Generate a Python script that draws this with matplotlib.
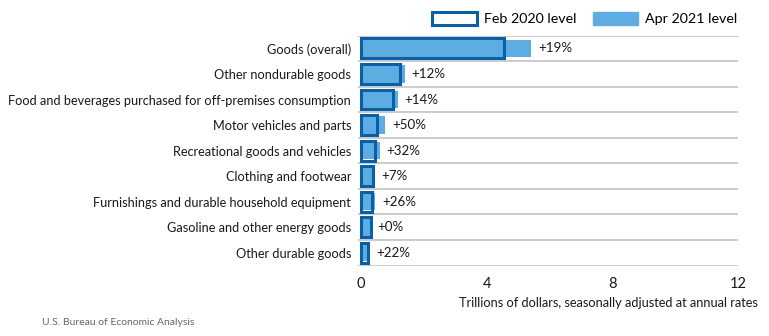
import matplotlib
matplotlib.use("Agg")
import matplotlib.pyplot as plt
from matplotlib.patches import Patch
import numpy as np

plt.rcParams['font.family'] = ['Lato', 'DejaVu Sans']

categories = ["Goods (overall)", "Other nondurable goods",
              "Food and beverages purchased for off-premises consumption",
              "Motor vehicles and parts", "Recreational goods and vehicles",
              "Clothing and footwear", "Furnishings and durable household equipment",
              "Gasoline and other energy goods", "Other durable goods"]
feb_2020 = [4.55, 1.23, 1.03, 0.50, 0.45, 0.38, 0.36, 0.31, 0.22]
apr_2021 = [5.41, 1.39, 1.17, 0.76, 0.59, 0.41, 0.45, 0.31, 0.27]
pct_labels = ["+19%", "+12%", "+14%", "+50%", "+32%", "+7%", "+26%", "+0%", "+22%"]
xticks = [0, 4, 8, 12]

light = "#5dade2"
dark = "#0b5fa5"

fig = plt.figure(figsize=(7.69, 3.36), dpi=100)
ax = fig.add_axes([0.4655, 0.2098, 0.4942, 0.684])

y = np.arange(len(categories))
ax.barh(y, apr_2021, height=0.68, color=light, zorder=2)
ax.barh(y, feb_2020, height=0.78, facecolor="none", edgecolor=dark, linewidth=2.2, zorder=3)

for i in range(len(categories)):
    end = max(feb_2020[i], apr_2021[i])
    ax.annotate(pct_labels[i], xy=(end, y[i]), xytext=(5, 0), textcoords="offset points",
                va="center", ha="left", fontsize=9.6, color="#1a1a1a")

for b in np.arange(len(categories) + 1) - 0.5:
    ax.axhline(b, color="#c8c8c8", linewidth=1.3, zorder=1)

ax.set_xlim(-0.1, 12)
ax.set_ylim(len(categories) - 0.5, -0.5)
ax.set_yticks(y)
ax.set_yticklabels(categories, fontsize=9.15, color="#1a1a1a")
ax.set_xticks(xticks)
ax.set_xticklabels([str(t) for t in xticks], fontsize=10.5, color="#1a1a1a")
ax.tick_params(axis="both", length=0)
ax.tick_params(axis="x", pad=8)
ax.tick_params(axis="y", pad=5)
for s in ax.spines.values():
    s.set_visible(False)

fig.text(0.986, 0.097, "Trillions of dollars, seasonally adjusted at annual rates",
         ha="right", va="center", fontsize=9.15, color="#1a1a1a")
fig.text(0.055, 0.04, "U.S. Bureau of Economic Analysis", ha="left", va="center",
         fontsize=7.5, color="#666666")

handles = [Patch(facecolor="white", edgecolor=dark, linewidth=2.2, label="Feb 2020 level"),
           Patch(facecolor=light, edgecolor=light, label="Apr 2021 level")]
fig.legend(handles=handles, ncol=2, loc="upper left", bbox_to_anchor=(0.562, 0.965),
           frameon=False, fontsize=10.3, handlelength=3.1, handleheight=1.1,
           handletextpad=0.5, columnspacing=1.2, borderpad=0, borderaxespad=0)

fig.savefig("out.png", dpi=100)
